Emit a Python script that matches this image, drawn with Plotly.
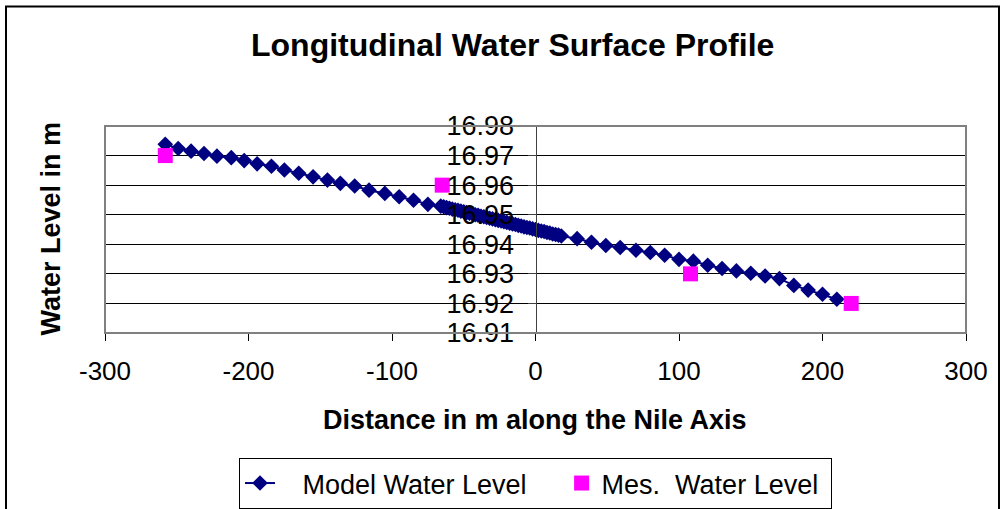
import plotly.graph_objects as go

# Model water level (distance in m along the Nile axis, water level in m)
model_x = [-258, -249, -240, -231, -222, -212, -203, -194, -184, -175,
           -165, -155, -145, -136, -126, -116, -105, -95, -85, -75,
           -66, -64, -62, -60, -58, -56, -54, -52, -50, -48,
           -46, -44, -42, -40, -38, -36, -34, -32, -30, -28,
           -26, -24, -22, -20, -18, -16, -14, -12, -10, -8,
           -6, -4, -2, 0, 2, 4, 6, 8, 10, 12,
           14, 16, 18, 29, 39, 49, 59, 70, 80, 90,
           100, 110, 120, 130, 140, 150, 160, 170, 180, 190,
           200, 210]
model_y = [16.9738, 16.9724, 16.9715, 16.9707, 16.9698, 16.9693, 16.9683, 16.9672, 16.9664, 16.9651,
           16.9640, 16.9628, 16.9617, 16.9606, 16.9597, 16.9583, 16.9572, 16.9561, 16.9549, 16.9535,
           16.9529, 16.9527, 16.9524, 16.9522, 16.9519, 16.9517, 16.9515, 16.9512, 16.9510, 16.9507,
           16.9505, 16.9503, 16.9500, 16.9498, 16.9495, 16.9493, 16.9491, 16.9488, 16.9486, 16.9483,
           16.9481, 16.9479, 16.9476, 16.9474, 16.9471, 16.9469, 16.9467, 16.9464, 16.9462, 16.9459,
           16.9457, 16.9455, 16.9452, 16.9450, 16.9447, 16.9445, 16.9443, 16.9440, 16.9438, 16.9435,
           16.9433, 16.9431, 16.9428, 16.9419, 16.9407, 16.9396, 16.9389, 16.9380, 16.9372, 16.9363,
           16.9349, 16.9343, 16.9329, 16.9318, 16.9310, 16.9302, 16.9293, 16.9284, 16.9261, 16.9245,
           16.9231, 16.9214]

# Measured water level
mes_x = [-258, -65, 108, 220]
mes_y = [16.97, 16.96, 16.93, 16.92]

x_ticks = [-300, -200, -100, 0, 100, 200, 300]
x_tick_labels = ["-300", "-200", "-100", "0", "100", "200", "300"]
y_ticks = [16.91, 16.92, 16.93, 16.94, 16.95, 16.96, 16.97, 16.98]

FONT = "Arial, Liberation Sans, sans-serif"

fig = go.Figure()
fig.add_trace(go.Scatter(
    x=model_x, y=model_y, mode="lines+markers", name="   Model Water Level    ",
    line=dict(color="#000080", width=2),
    marker=dict(symbol="diamond", size=12, color="#000080"),
))
fig.add_trace(go.Scatter(
    x=mes_x, y=mes_y, mode="markers", name="Mes.  Water Level ",
    marker=dict(symbol="square", size=15, color="#FF00FF"),
))

fig.update_layout(
    width=1005, height=509,
    margin=dict(l=105, r=39, t=126, b=176, pad=0, autoexpand=False),
    paper_bgcolor="white", plot_bgcolor="white",
    font=dict(family=FONT, color="black", size=26),
    showlegend=True,
    legend=dict(
        orientation="h", x=0.5, xanchor="center", y=-0.727, yanchor="middle",
        bordercolor="black", borderwidth=1, font=dict(size=27),
    ),
    xaxis=dict(
        range=[-300, 300], tickvals=x_ticks, ticktext=x_tick_labels,
        ticks="outside", ticklen=7,
        tickcolor="black", showgrid=False, zeroline=False,
        showline=False, tickfont=dict(size=26), ticklabelstandoff=8,
    ),
    yaxis=dict(
        range=[16.91, 16.98], tickvals=y_ticks, tickformat=".2f",
        anchor="free", position=0.5, ticks="outside", ticklen=8,
        tickcolor="#404040", showline=True, linecolor="#404040", linewidth=1,
        showgrid=True, gridcolor="black", gridwidth=1, zeroline=False,
        tickfont=dict(size=27), ticklabelstandoff=8,
    ),
    shapes=[
        dict(type="rect", xref="paper", yref="paper", x0=0, x1=1, y0=0, y1=1,
             line=dict(color="#808080", width=2), layer="above"),
        dict(type="rect", xref="paper", yref="paper",
             x0=-99/861, x1=894/861, y0=-180/207, y1=(333.5 - 7) / 207,
             line=dict(color="black", width=2), layer="below"),
    ],
    annotations=[
        dict(text="<b>Longitudinal Water Surface Profile</b>", xref="paper", yref="paper",
             x=(512 - 105) / 861, y=(333.5 - 45) / 207, xanchor="center", yanchor="middle",
             showarrow=False, font=dict(size=32)),
        dict(text="<b>Distance in m along the Nile Axis</b>", xref="paper", yref="paper",
             x=(535 - 105) / 861, y=(333.5 - 420) / 207, xanchor="center", yanchor="middle",
             showarrow=False, font=dict(size=27)),
        dict(text="<b>Water Level in m</b>", xref="paper", yref="paper",
             x=(50 - 105) / 861, y=(333.5 - 229) / 207, xanchor="center", yanchor="middle",
             textangle=-90, showarrow=False, font=dict(size=27)),
    ],
)

fig.write_html("out.html")
